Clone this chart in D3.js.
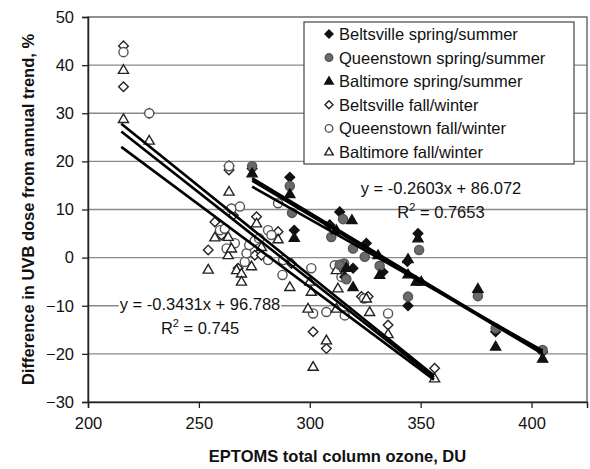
<!DOCTYPE html>
<html>
<head>
<meta charset="utf-8">
<script src="https://cdn.jsdelivr.net/npm/d3@7"></script>
<style>
  body { margin: 0; background: #fff; }
  svg text { font-family: "Liberation Sans", Arial, sans-serif; fill: #111; }
</style>
</head>
<body>
<div id="chart"></div>
<script>
// ozone (DU), UVB difference (%)
const beltsvilleSS = [[274,18.5],[291,16.7],[293,5.7],[313.5,9.5],[309,6.8],[319.5,-2.2],[315.8,-4],
  [325.5,3],[344.3,-10],[348.8,5],[375.8,-7.2],[383.8,-15.4],[405,-19.6],[333,-3],[344,-0.8]];
const queenstownSS = [[274,19],[291,14.9],[292,9.3],[309.7,4.3],[315,8],[315.5,-1.2],[316.5,-4.5],
  [319.5,1.9],[324.8,0.2],[331.5,-1.7],[344.3,-8.1],[349.3,1.6],[375.8,-8],[383.8,-14.7],[405,-19.2],[313.5,-1.5]];
const baltimoreSS = [[274,17.5],[291,13.2],[293,4.1],[312,5.7],[319,7.8],[316.5,-2.1],[319.5,-6.1],
  [330.8,0.5],[331.5,-3.6],[344.3,-0.3],[344.3,-3.5],[348,-5],[350.3,-5],[348.8,4],[375.8,-6.5],[383.8,-18.5],[405,-21]];
const beltsvilleFW = [[216,44],[216,35.5],[227.6,30],[263.6,19.1],[263.6,18.2],[265.5,8.8],[257.2,7.4],
  [260.2,4.7],[254.2,1.6],[267.7,-2.2],[275.2,0.5],[276,8.5],[278.2,0.5],[285.7,5.4],[291.7,-1.2],
  [301.5,-15.4],[307.5,-18.9],[313.5,-2.2],[323.3,-8.1],[326.3,-8.1],[335.3,-14],[356.3,-23]];
const queenstownFW = [[216,42.7],[227.6,30],[263.6,19],[264.7,10.2],[268.5,10.6],[259.5,5.7],[261.7,6],
  [262.5,1.9],[266.2,3],[270.7,-0.9],[271.5,0.9],[272.7,2.6],[275.2,3.5],[277.2,4],[281.2,5.7],[282.7,4.7],
  [285.7,11.3],[287.7,-3.6],[288,-0.5],[300.7,-2.2],[301.5,-11.6],[307.5,-11.3],[311.3,-1.6],[314.3,-4],
  [315.8,-12],[324.5,-8.5],[335.3,-11.6],[281.2,-0.5]];
const baltimoreFW = [[216,39],[216,28.8],[227.6,24.3],[263.6,13.7],[254.2,-2.5],[257.2,4.2],[263.2,0.5],
  [264.7,1.9],[263.2,4.3],[267,-2.6],[269.2,-3.3],[269.2,-5],[273.7,-1.8],[276,7.1],[278.2,2.2],[285.7,3.8],
  [291,-6.1],[299.2,-10.6],[300.7,-7.1],[300,-5],[301.5,-22.7],[307.5,-17.2],[312,-10.6],[312,-2.6],
  [312.7,-6.4],[327,-11.3],[335.3,-15.9],[356.3,-25.1],[325.5,-8.5]];

// trend lines: [slope, intercept, xStart, xEnd]
const trendSS = [[-0.2771,92.43,274,405],[-0.2748,91.3,274,405],[-0.2603,86.072,274,405]];
const trendFW = [[-0.3709,107.55,215,356],[-0.3624,104.12,215,356],[-0.3431,96.788,215,356]];

const legendLabels = ["Beltsville spring/summer","Queenstown spring/summer","Baltimore spring/summer",
  "Beltsville fall/winter","Queenstown fall/winter","Baltimore fall/winter"];
const xTicks = [200,250,300,350,400];
const yTicks = [-30,-20,-10,0,10,20,30,40,50];
const eqSS = ["y = -0.2603x + 86.072", "0.7653"];
const eqFW = ["y = -0.3431x + 96.788", "0.745"];

const W = 590, H = 469;
const pL = 88, pR = 587, pT = 17, pB = 402;

const svg = d3.select("#chart").append("svg").attr("width", W).attr("height", H);

const x = d3.scaleLinear().domain([200,425]).range([pL,pR]);
const y = d3.scaleLinear().domain([-30,50]).range([pB,pT]);

// grid
svg.append("g").selectAll("line").data(yTicks.filter(d => d > -30 && d < 50)).enter().append("line")
  .attr("x1", pL).attr("x2", pR).attr("y1", d => y(d)).attr("y2", d => y(d))
  .attr("stroke", "#8a8a8a").attr("stroke-width", 1.3);

// plot border
svg.append("rect").attr("x", pL).attr("y", pT).attr("width", pR-pL).attr("height", pB-pT)
  .attr("fill", "none").attr("stroke", "#555").attr("stroke-width", 1.3);

// axes
const fs = "16.5px";
const xAxis = svg.append("g").attr("transform", `translate(0,${pB})`)
  .call(d3.axisBottom(x).tickValues(xTicks).tickSize(6).tickPadding(9));
const yAxis = svg.append("g").attr("transform", `translate(${pL},0)`)
  .call(d3.axisLeft(y).tickValues(yTicks).tickSize(6).tickPadding(8));
[xAxis, yAxis].forEach(a => {
  a.select(".domain").attr("stroke", "#222").attr("stroke-width", 1.5);
  a.selectAll(".tick line").attr("stroke", "#222").attr("stroke-width", 1.3);
  a.selectAll("text").style("font-size", fs).attr("fill", "#111");
});

// marker shapes
function markerPath(kind, s) {
  if (kind === "diamond") return `M0,${-s}L${s},0L0,${s}L${-s},0Z`;
  if (kind === "triangle") { const h = s*1.8; return `M0,${-h*0.6}L${s*1.05},${h*0.4}L${-s*1.05},${h*0.4}Z`; }
  return d3.arc()({innerRadius:0, outerRadius:s*0.95, startAngle:0, endAngle:2*Math.PI});
}

const series = [
  {data: beltsvilleSS, kind: "diamond", fill: "#111", stroke: "#111"},
  {data: queenstownSS, kind: "circle", fill: "#6a6a6a", stroke: "#555"},
  {data: baltimoreSS, kind: "triangle", fill: "#111", stroke: "#111"},
  {data: beltsvilleFW, kind: "diamond", fill: "#fff", stroke: "#222"},
  {data: queenstownFW, kind: "circle", fill: "#fff", stroke: "#555"},
  {data: baltimoreFW, kind: "triangle", fill: "#fff", stroke: "#222"}
];

// fall/winter first so summer sits on top
const order = [3,4,5,0,1,2];
order.forEach(i => {
  const s = series[i];
  svg.append("g").selectAll("path").data(s.data).enter().append("path")
    .attr("d", markerPath(s.kind, 4.8))
    .attr("transform", d => `translate(${x(d[0])},${y(d[1])})`)
    .attr("fill", s.fill).attr("stroke", s.stroke).attr("stroke-width", 1.4);
});

// trend lines
function drawTrend(lines) {
  svg.append("g").selectAll("line").data(lines).enter().append("line")
    .attr("x1", d => x(d[2])).attr("y1", d => y(d[0]*d[2]+d[1]))
    .attr("x2", d => x(d[3])).attr("y2", d => y(d[0]*d[3]+d[1]))
    .attr("stroke", "#000").attr("stroke-width", 2.6);
}
drawTrend(trendFW);
drawTrend(trendSS);

// equations
function equation(lines, cx, by) {
  const g = svg.append("g");
  const t1 = g.append("text").attr("x", cx).attr("y", by).attr("text-anchor", "middle")
    .style("font-size", fs).text(lines[0]);
  const bb = t1.node().getBBox();
  g.insert("rect", "text").attr("x", bb.x - 1).attr("y", bb.y).attr("width", bb.width + 2)
    .attr("height", bb.height).attr("fill", "#fff");
  const t2 = g.append("text").attr("x", cx).attr("y", by + 24).attr("text-anchor", "middle")
    .style("font-size", fs);
  t2.append("tspan").text("R");
  t2.append("tspan").attr("dy", -7).style("font-size", "11px").text("2");
  t2.append("tspan").attr("dy", 7).text(" = " + lines[1]);
}
equation(eqSS, 441, 194);
equation(eqFW, 200, 310);

// legend
const lg = svg.append("g");
lg.append("rect").attr("x", 304).attr("y", 22).attr("width", 270).attr("height", 142)
  .attr("fill", "#fff").attr("stroke", "#444").attr("stroke-width", 1.2);
legendLabels.forEach((lab, i) => {
  const s = series[i];
  const by = 40 + i*23.6;
  lg.append("path").attr("d", markerPath(s.kind, 4))
    .attr("transform", `translate(329,${by-6})`)
    .attr("fill", s.fill).attr("stroke", s.stroke).attr("stroke-width", 1.4);
  lg.append("text").attr("x", 339).attr("y", by).style("font-size", fs).text(lab);
});

// axis titles
svg.append("text").attr("x", (pL+pR)/2).attr("y", 462).attr("text-anchor", "middle")
  .style("font-size", "16.5px").style("font-weight", "bold").text("EPTOMS total column ozone, DU");
svg.append("text").attr("transform", `translate(34,${(pT+pB)/2}) rotate(-90)`)
  .attr("text-anchor", "middle").style("font-size", "16.5px").style("font-weight", "bold")
  .text("Difference in UVB dose from annual trend, %");
</script>
</body>
</html>
